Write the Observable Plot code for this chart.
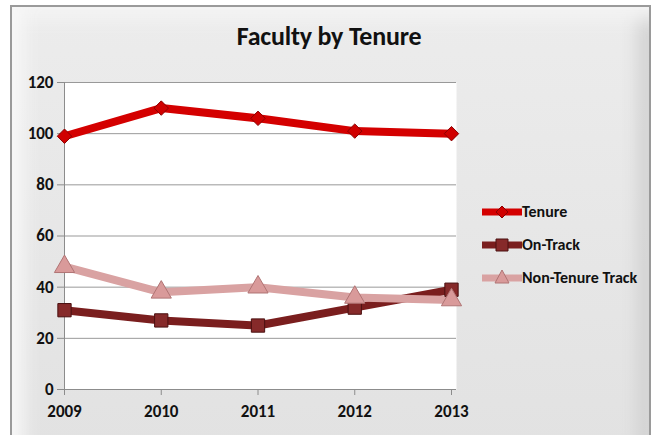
<!DOCTYPE html>
<html>
<head>
<meta charset="utf-8">
<script src="https://cdn.jsdelivr.net/npm/d3@7"></script>
<script src="https://cdn.jsdelivr.net/npm/@observablehq/plot@0.6"></script>
<style>
  html, body { margin: 0; padding: 0; background: #fff; }
  #wrap { position: relative; width: 658px; height: 435px; overflow: hidden; font-family: Carlito, "Liberation Sans Narrow", "Open Sans", Arial, sans-serif; }
  #frame { position: absolute; left: 10px; top: 5px; width: 641px; height: 440px; box-sizing: border-box;
    border: 2px solid #9a9a9a; border-bottom: none;
    background: linear-gradient(#ececec, #e2e2e2);
    box-shadow: inset 22px 0 18px -10px #f7f7f7, inset 0 22px 18px -10px #f4f4f4, inset -20px 0 18px -10px #cfcfcf; }
  #title { position: absolute; left: 0; width: 658px; top: 20px; text-align: center; font-weight: bold; font-size: 26px; color: #111; letter-spacing: -0.2px; }
  #chart { position: absolute; left: 0; top: 0; }
  #legend { position: absolute; left: 482px; top: 202px; font-weight: bold; font-size: 16px; color: #111; }
  .row { height: 33px; display: flex; align-items: flex-start; }
  .row span { display: inline-block; line-height: 20px; }
</style>
</head>
<body>
<div id="wrap">
  <div id="frame"></div>
  <div id="title">Faculty by Tenure</div>
  <div id="chart"></div>
  <div id="legend"></div>
</div>
<script>
const years = [2009, 2010, 2011, 2012, 2013];
const tenure = [99, 110, 106, 101, 100];
const onTrack = [31, 27, 25, 32, 39];
const nonTenure = [48, 38, 40, 36, 35];
const seriesNames = ["Tenure", "On-Track", "Non-Tenure Track"];
const yTicks = [0, 20, 40, 60, 80, 100, 120];

const lineColors = ["#d40000", "#7a1e1e", "#d9a2a2"];
const markFill = ["#d00000", "#862a2a", "#d99a9a"];
const markStroke = ["#8a0000", "#4a1010", "#b07474"];
const symbols = ["diamond2", "square", "triangle"];

const rows = [];
[tenure, onTrack, nonTenure].forEach((vals, s) => {
  vals.forEach((v, i) => rows.push({series: seriesNames[s], s, year: years[i], value: v}));
});

const lineMarks = [];
const dotMarks = [];
seriesNames.forEach((name, s) => {
  const d = rows.filter(r => r.s === s);
  lineMarks.push(Plot.line(d, {x: "year", y: "value", stroke: lineColors[s], strokeWidth: 8, strokeLinejoin: "round", strokeLinecap: "butt"}));
  dotMarks.push(Plot.dot(d, {x: "year", y: "value", symbol: () => symbols[s], r: s === 0 ? 6.5 : 7.5, fill: markFill[s], stroke: markStroke[s], strokeWidth: 1}));
});

const plot = Plot.plot({
  width: 658,
  height: 435,
  marginLeft: 64,
  marginRight: 207,
  marginTop: 82,
  marginBottom: 46,
  style: {background: "transparent", fontFamily: 'Carlito, "Liberation Sans Narrow", "Open Sans", Arial, sans-serif', fontWeight: "bold", fontSize: "17px", color: "#111"},
  x: {domain: [2009, 2013], label: null},
  y: {domain: [0, 120], label: null},
  symbol: {type: "identity"},
  marks: [
    Plot.frame({fill: "white", stroke: null, insetRight: -5}),
    Plot.gridY(yTicks, {stroke: "#999", strokeOpacity: 1, strokeWidth: 1, insetRight: -5}),
    Plot.ruleX([2009], {stroke: "#8c8c8c"}),
    Plot.ruleY([0], {stroke: "#8c8c8c", insetRight: -5}),
    Plot.axisY({ticks: yTicks, tickSize: 7, tickPadding: 4, stroke: "#8c8c8c", fontSize: 17, fontWeight: "bold", fill: "#111"}),
    Plot.axisX({ticks: years, tickFormat: d => String(d), tickSize: 6, tickPadding: 9, stroke: "#8c8c8c", fontSize: 17, fontWeight: "bold", fill: "#111"}),
    ...lineMarks,
    ...dotMarks
  ]
});
document.getElementById("chart").appendChild(plot);

// legend
const legend = document.getElementById("legend");
const symPaths = [
  "M20,4 L26,10 L20,16 L14,10 Z",
  "M14,4 L26,4 L26,16 L14,16 Z",
  "M20,2 L27,15 L13,15 Z"
];
seriesNames.forEach((name, s) => {
  const row = document.createElement("div");
  row.className = "row";
  row.innerHTML = `<svg width="40" height="20"><line x1="0" x2="40" y1="10" y2="10" stroke="${lineColors[s]}" stroke-width="7"/><path d="${symPaths[s]}" fill="${markFill[s]}" stroke="${markStroke[s]}" stroke-width="1"/></svg><span>${name}</span>`;
  legend.appendChild(row);
});
</script>
</body>
</html>
